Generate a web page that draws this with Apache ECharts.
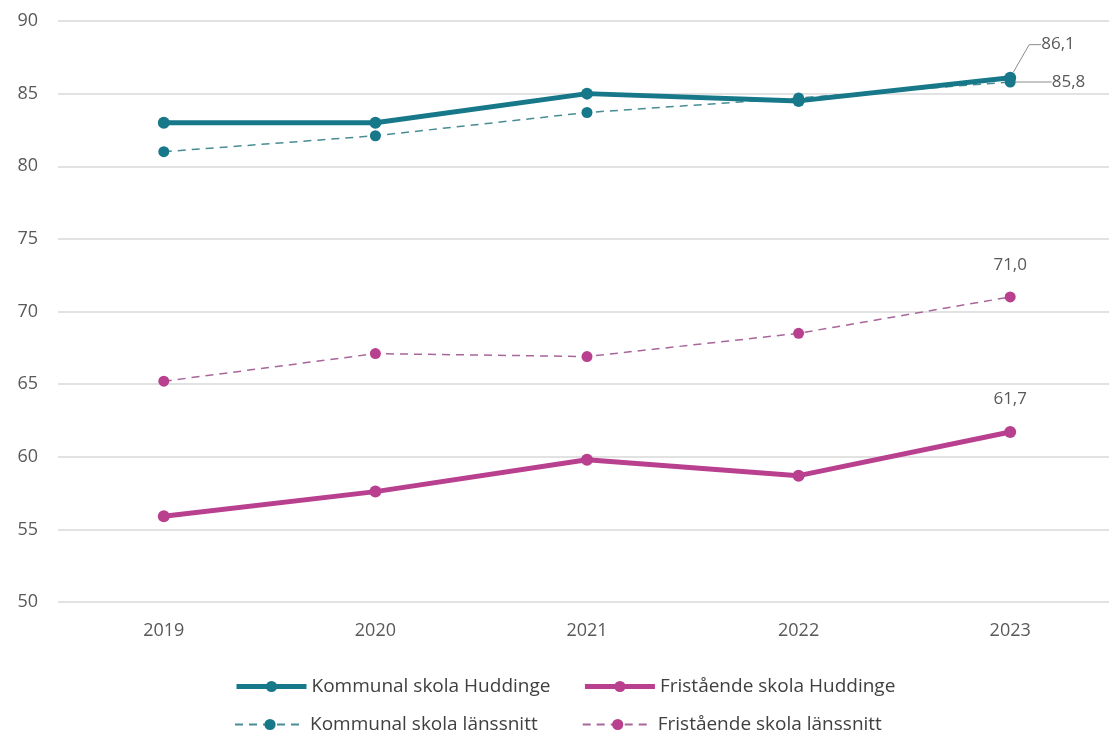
<!DOCTYPE html>
<html>
<head>
<meta charset="utf-8">
<script src="https://cdn.jsdelivr.net/npm/echarts@6/dist/echarts.min.js"></script>
<style>
  html, body { margin: 0; padding: 0; background: #fff; }
  #chart { width: 1109px; height: 734px; }
</style>
</head>
<body>
<div id="chart"></div>
<script>
// Years on the x axis
const years = ['2019', '2020', '2021', '2022', '2023'];

// Values
const kommunalHuddinge = [83.0, 83.0, 85.0, 84.5, 86.1];
const friHuddinge = [55.9, 57.6, 59.8, 58.7, 61.7];
const kommunalLan = [81.0, 82.1, 83.7, 84.7, 85.8];
const friLan = [65.2, 67.1, 66.9, 68.5, 71.0];

const teal = '#17788a';
const magenta = '#b8408e';
const font = '"Open Sans", "DejaVu Sans", sans-serif';

function comma(p) {
    return p.value.toFixed(1).replace('.', ',');
}

// only the last point carries a value label
function lastLabel(values, label) {
    return values.map(function (v, i) {
        if (i !== values.length - 1) return v;
        return { value: v, label: Object.assign({ show: true }, label) };
    });
}

document.addEventListener("DOMContentLoaded", function () {
    var chart = echarts.init(document.getElementById('chart'));

    var labelStyle = { formatter: comma, color: '#595959', fontSize: 17, fontFamily: font };
    var legendText = { fontSize: 19, color: '#404040', fontFamily: font };

    var option = {
        animation: false,
        grid: { left: 58, top: 21, width: 1058, height: 581, outerBoundsMode: 'none' },
        legend: [
            {
                data: [
                    { name: 'Kommunal skola Huddinge', lineStyle: { width: 5 } },
                    { name: 'Fristående skola Huddinge', lineStyle: { width: 5 } }
                ],
                left: 229, top: 672,
                itemWidth: 70, itemHeight: 14, itemGap: 32,
                textStyle: legendText
            },
            {
                data: ['Kommunal skola länssnitt', 'Fristående skola länssnitt'],
                left: 229, top: 710,
                itemWidth: 70, itemHeight: 14, itemGap: 44,
                textStyle: legendText
            }
        ],
        xAxis: {
            type: 'category',
            data: years,
            axisLine: { show: false },
            axisTick: { show: false },
            axisLabel: { color: '#595959', fontSize: 18, fontFamily: font, margin: 20 }
        },
        yAxis: {
            type: 'value',
            min: 50, max: 90, interval: 5,
            axisLabel: { color: '#595959', fontSize: 18, fontFamily: font, margin: 20 },
            splitLine: { lineStyle: { color: '#d9d9d9', width: 1.5 } }
        },
        series: [
            {
                name: 'Kommunal skola Huddinge',
                type: 'line',
                data: lastLabel(kommunalHuddinge, { position: 'right' }),
                symbol: 'circle', symbolSize: 12,
                itemStyle: { color: teal },
                lineStyle: { color: teal, width: 5 },
                label: labelStyle,
                labelLine: { show: true, length2: 12, lineStyle: { color: '#8c8c8c', width: 1 } },
                labelLayout: function (p) {
                    return p.dataIndex === 4 ? { dx: 20, dy: -33 } : {};
                },
                z: 4
            },
            {
                name: 'Fristående skola Huddinge',
                type: 'line',
                data: lastLabel(friHuddinge, { position: 'top', distance: 18 }),
                symbol: 'circle', symbolSize: 12,
                itemStyle: { color: magenta },
                lineStyle: { color: magenta, width: 5 },
                label: labelStyle,
                z: 4
            },
            {
                name: 'Kommunal skola länssnitt',
                type: 'line',
                data: lastLabel(kommunalLan, { position: 'right' }),
                symbol: 'circle', symbolSize: 11,
                itemStyle: { color: teal },
                lineStyle: { color: '#4a8c94', width: 1.5, type: [8, 6] },
                label: labelStyle,
                labelLine: { show: true, lineStyle: { color: '#8c8c8c', width: 1 } },
                labelLayout: function (p) {
                    return p.dataIndex === 4 ? { dx: 31, dy: 0 } : {};
                },
                z: 3
            },
            {
                name: 'Fristående skola länssnitt',
                type: 'line',
                data: lastLabel(friLan, { position: 'top', distance: 18 }),
                symbol: 'circle', symbolSize: 11,
                itemStyle: { color: magenta },
                lineStyle: { color: '#a8669a', width: 1.5, type: [8, 6] },
                label: labelStyle,
                z: 3
            }
        ]
    };

    chart.setOption(option);
});
</script>
</body>
</html>
